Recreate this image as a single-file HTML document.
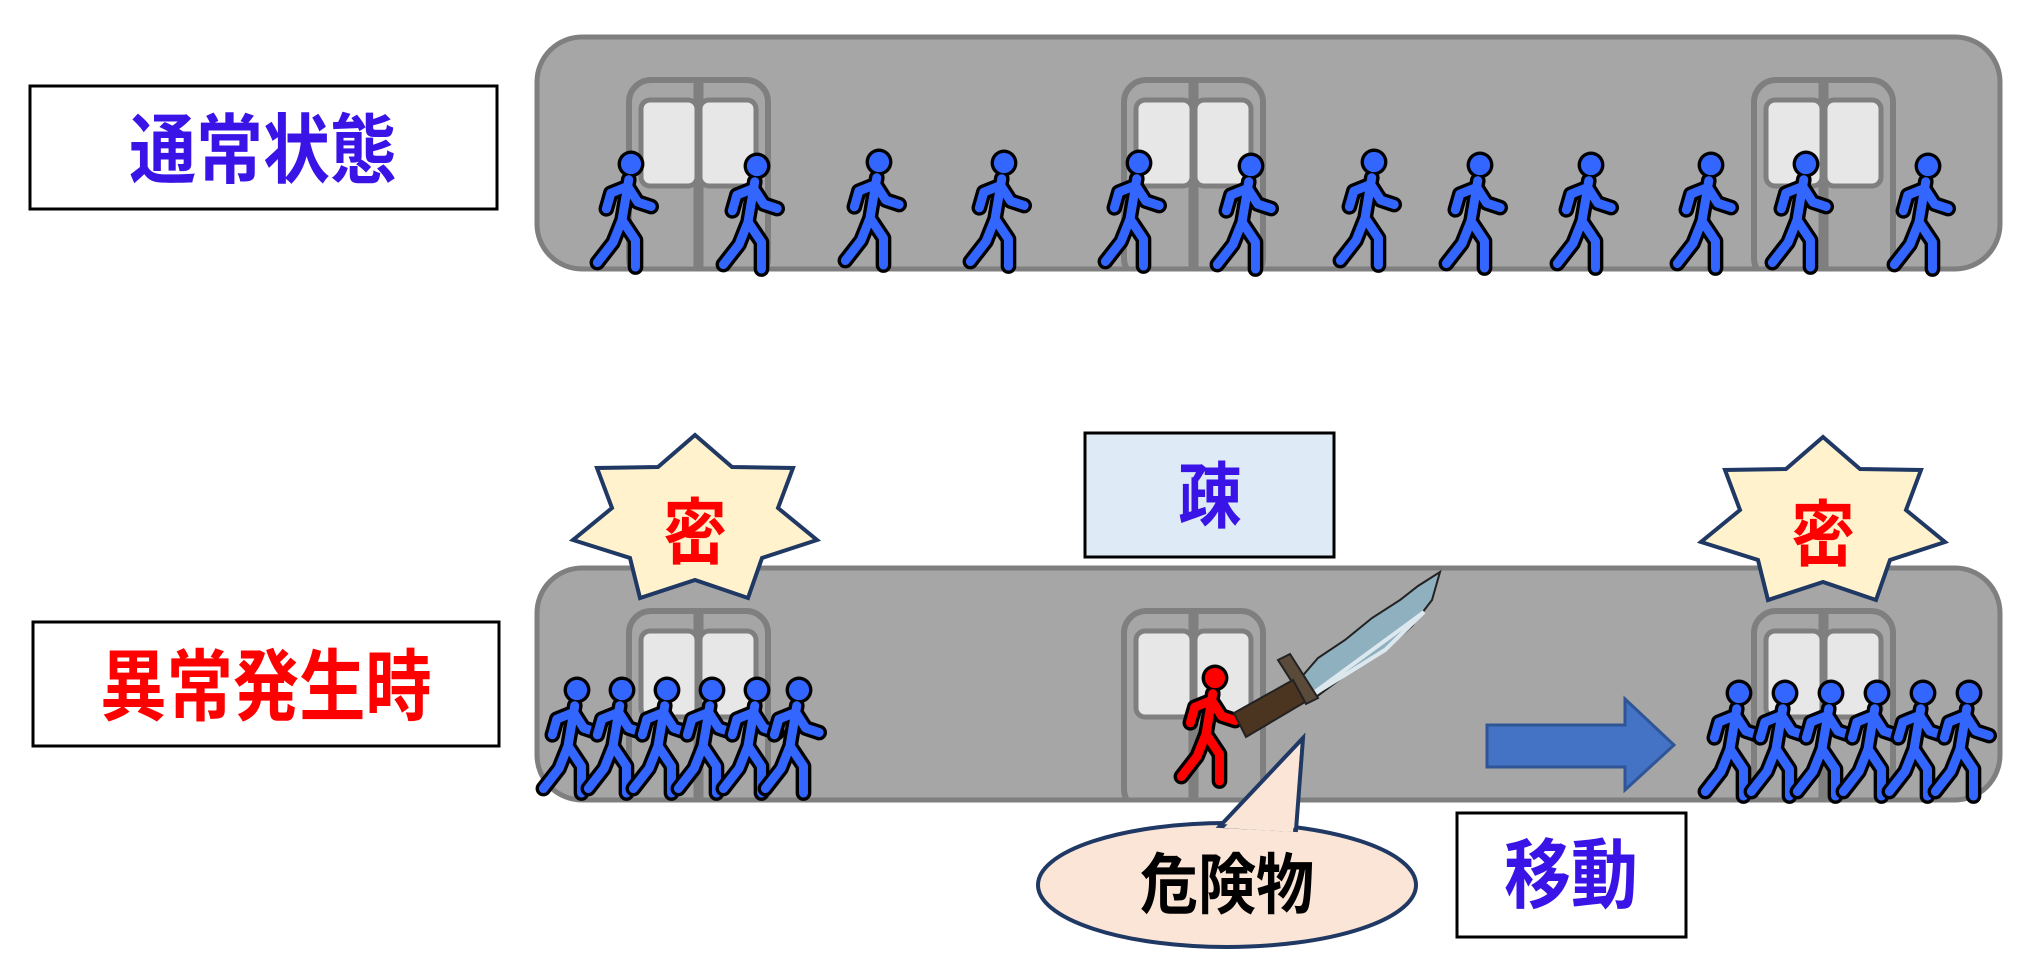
<!DOCTYPE html>
<html><head><meta charset="utf-8"><style>
html,body{margin:0;padding:0;background:#fff;}
svg{display:block;}
text{font-family:"Liberation Sans","Noto Sans CJK JP",sans-serif;font-weight:bold;}
</style></head><body>
<svg width="2037" height="955" viewBox="0 0 2037 955" xmlns="http://www.w3.org/2000/svg">
<defs>
<g id="pb0">
  <g fill="none" stroke="#000" stroke-width="14" stroke-linecap="round" stroke-linejoin="round">
    <path d="M-2,14 L-8,50 M-3,20 L-18,26 L-22,40 M-3,20 L6,34 L18,38 M-8,50 L-16,70 L-30,88 M-8,50 L4,68 L4,92"/>
  </g>
  <circle cx="0" cy="0" r="12" fill="#000"/>
  <g fill="none" stroke="#3366ff" stroke-width="8" stroke-linecap="round" stroke-linejoin="round">
    <path d="M-2,14 L-8,50 M-3,20 L-18,26 L-22,40 M-3,20 L6,34 L18,38 M-8,50 L-16,70 L-30,88 M-8,50 L4,68 L4,92"/>
  </g>
  <circle cx="0" cy="0" r="9" fill="#3366ff"/>
</g>
<g id="pb" transform="scale(1.12)"><use href="#pb0"/></g>
<g id="pr0">
  <g fill="none" stroke="#000" stroke-width="14" stroke-linecap="round" stroke-linejoin="round">
    <path d="M-2,14 L-8,50 M-3,20 L-18,26 L-22,40 M-3,20 L6,34 L18,38 M-8,50 L-16,70 L-30,88 M-8,50 L4,68 L4,92"/>
  </g>
  <circle cx="0" cy="0" r="12" fill="#000"/>
  <g fill="none" stroke="#ff0000" stroke-width="8" stroke-linecap="round" stroke-linejoin="round">
    <path d="M-2,14 L-8,50 M-3,20 L-18,26 L-22,40 M-3,20 L6,34 L18,38 M-8,50 L-16,70 L-30,88 M-8,50 L4,68 L4,92"/>
  </g>
  <circle cx="0" cy="0" r="9" fill="#ff0000"/>
</g>
<g id="pr" transform="scale(1.12)"><use href="#pr0"/></g>
<g id="door">
  <rect x="0" y="0" width="139" height="200" rx="22" fill="none" stroke="#7f7f7f" stroke-width="6"/>
  <line x1="69.5" y1="0" x2="69.5" y2="200" stroke="#7f7f7f" stroke-width="10"/>
  <rect x="12" y="20" width="56" height="86" rx="9" fill="#e7e7e7" stroke="#7f7f7f" stroke-width="5"/>
  <rect x="71" y="20" width="56" height="86" rx="9" fill="#e7e7e7" stroke="#7f7f7f" stroke-width="5"/>
</g>
</defs>

<!-- top label -->
<rect x="30" y="86" width="467" height="123" fill="#fff" stroke="#000" stroke-width="3"/>
<text transform="translate(263,177) scale(0.88,1)" font-size="76" fill="#3a14e6" text-anchor="middle">通常状態</text>

<!-- top train -->
<rect x="537" y="37" width="1463" height="232" rx="45" fill="#a6a6a6" stroke="#7f7f7f" stroke-width="5"/>
<clipPath id="c1"><rect x="537" y="37" width="1463" height="232" rx="45"/></clipPath>
<g clip-path="url(#c1)">
<use href="#door" x="629" y="80"/>
<use href="#door" x="1124" y="80"/>
<use href="#door" x="1754" y="80"/>
</g>
<g>
<use href="#pb" x="631" y="164"/><use href="#pb" x="757" y="166"/><use href="#pb" x="879" y="162"/>
<use href="#pb" x="1004" y="163"/><use href="#pb" x="1139" y="163"/><use href="#pb" x="1251" y="166"/>
<use href="#pb" x="1374" y="162"/><use href="#pb" x="1480" y="165"/><use href="#pb" x="1591" y="165"/>
<use href="#pb" x="1711" y="165"/><use href="#pb" x="1806" y="164"/><use href="#pb" x="1928" y="166"/>
</g>

<!-- bottom label -->
<rect x="33" y="622" width="466" height="124" fill="#fff" stroke="#000" stroke-width="3"/>
<text transform="translate(266,714) scale(0.85,1)" font-size="78" fill="#ff0000" text-anchor="middle">異常発生時</text>

<!-- 疎 box -->
<rect x="1085" y="433" width="249" height="124" fill="#deebf7" stroke="#000" stroke-width="3"/>
<text transform="translate(1210,522) scale(0.88,1)" font-size="72" fill="#3a14e6" text-anchor="middle">疎</text>

<!-- bottom train -->
<rect x="537" y="568" width="1463" height="232" rx="45" fill="#a6a6a6" stroke="#7f7f7f" stroke-width="5"/>
<clipPath id="c2"><rect x="537" y="568" width="1463" height="232" rx="45"/></clipPath>
<g clip-path="url(#c2)">
<use href="#door" x="629" y="611"/>
<use href="#door" x="1124" y="611"/>
<use href="#door" x="1754" y="611"/>
</g>

<!-- stars -->
<polygon points="695,435 732,467 793,468 778,508 817,540 762,558 748,598 695,580 640,598 630,558 573,540 612,508 597,468 658,467" fill="#fff2cc" stroke="#1f3864" stroke-width="4" stroke-linejoin="miter"/>
<text transform="translate(695,558) scale(0.88,1)" font-size="72" fill="#ff0000" text-anchor="middle">密</text>
<g transform="translate(1128,2)">
<polygon points="695,435 732,467 793,468 778,508 817,540 762,558 748,598 695,580 640,598 630,558 573,540 612,508 597,468 658,467" fill="#fff2cc" stroke="#1f3864" stroke-width="4"/>
<text transform="translate(695,558) scale(0.88,1)" font-size="72" fill="#ff0000" text-anchor="middle">密</text>
</g>

<!-- crowds -->
<use href="#pb" x="577" y="690"/><use href="#pb" x="622" y="690"/><use href="#pb" x="667" y="690"/>
<use href="#pb" x="712" y="690"/><use href="#pb" x="757" y="690"/><use href="#pb" x="799" y="690"/>
<use href="#pb" x="1739" y="693"/><use href="#pb" x="1785" y="693"/><use href="#pb" x="1831" y="693"/>
<use href="#pb" x="1877" y="693"/><use href="#pb" x="1923" y="693"/><use href="#pb" x="1969" y="693"/>

<!-- red person -->
<use href="#pr" x="1215" y="678"/>

<!-- knife -->
<polygon points="1292,688 1318,658 1345,640 1372,618 1400,600 1418,586 1440,572 1432,600 1412,626 1385,650 1350,672 1312,700" fill="#8fb0bf" stroke="#222" stroke-width="2"/>
<polygon points="1304,700 1340,678 1385,650 1424,612" fill="none" stroke="#dde8ee" stroke-width="4"/>
<polygon points="1278,660 1290,654 1318,698 1306,704" fill="#5a4a3a" stroke="#222" stroke-width="2"/>
<polygon points="1234,713 1293,680 1305,702 1246,737" fill="#4b3520" stroke="#222" stroke-width="2"/>

<!-- arrow -->
<polygon points="1487,725 1625,725 1625,699 1674,745 1625,790 1625,767 1487,767" fill="#4472c4" stroke="#2f5597" stroke-width="3"/>

<!-- speech bubble -->
<ellipse cx="1227" cy="885" rx="189" ry="62" fill="#fbe5d6" stroke="#1f3864" stroke-width="4"/>
<polygon points="1220,826 1303,738 1296,830" fill="#fbe5d6" stroke="#1f3864" stroke-width="4" stroke-linejoin="miter"/>
<polygon points="1224,828 1300,750 1293,832" fill="#fbe5d6"/>
<text transform="translate(1227,908) scale(0.88,1)" font-size="66" fill="#000" text-anchor="middle" font-weight="normal">危険物</text>

<!-- 移動 box -->
<rect x="1457" y="813" width="229" height="124" fill="#fff" stroke="#000" stroke-width="3"/>
<text transform="translate(1571,902) scale(0.88,1)" font-size="76" fill="#3a14e6" text-anchor="middle">移動</text>
</svg>
</body></html>
